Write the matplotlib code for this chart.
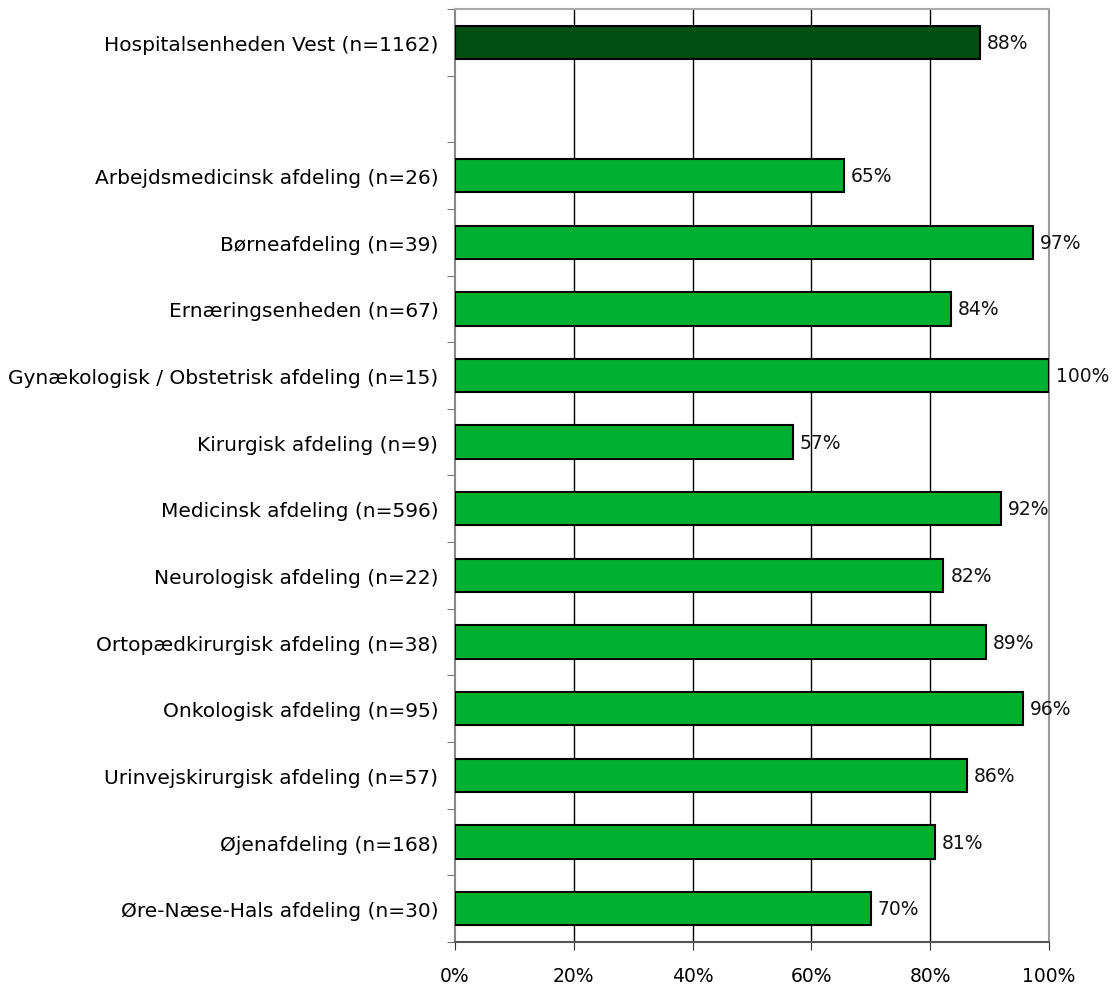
import matplotlib
matplotlib.use("Agg")
import matplotlib.pyplot as plt
import numpy as np

categories = [
    "Hospitalsenheden Vest (n=1162)",
    "",
    "Arbejdsmedicinsk afdeling (n=26)",
    "Børneafdeling (n=39)",
    "Ernæringsenheden (n=67)",
    "Gynækologisk / Obstetrisk afdeling (n=15)",
    "Kirurgisk afdeling (n=9)",
    "Medicinsk afdeling (n=596)",
    "Neurologisk afdeling (n=22)",
    "Ortopædkirurgisk afdeling (n=38)",
    "Onkologisk afdeling (n=95)",
    "Urinvejskirurgisk afdeling (n=57)",
    "Øjenafdeling (n=168)",
    "Øre-Næse-Hals afdeling (n=30)",
]
values = [88.4, None, 65.5, 97.3, 83.5, 100.0, 56.9, 91.9, 82.2, 89.4, 95.6, 86.2, 80.8, 70.0]
labels = ["88%", "", "65%", "97%", "84%", "100%", "57%", "92%", "82%", "89%", "96%", "86%", "81%", "70%"]
xticks = [0, 20, 40, 60, 80, 100]
xticklabels = ["0%", "20%", "40%", "60%", "80%", "100%"]

plt.rcParams['font.family'] = ['DejaVu Sans']
fig = plt.figure(figsize=(11.15, 9.87), dpi=100)
ax = fig.add_axes([0.408, 0.0446, 0.5327, 0.9453])

ypos = np.arange(len(categories))
for i, (v, lab) in enumerate(zip(values, labels)):
    if v is None:
        continue
    color = "#024f14" if i == 0 else "#00b030"
    ax.barh(i, v, height=0.5, color=color, edgecolor="black", linewidth=1.5, zorder=3)
    ax.text(v + 1.2, i, lab, va="center", ha="left", fontsize=13.5, color="#111111", zorder=4)

ax.set_xlim(0, 100)
ax.set_ylim(len(categories) - 0.5, -0.5)
ax.set_xticks(xticks)
ax.set_xticklabels(xticklabels, fontsize=13.5)
ax.set_yticks(ypos)
ax.set_yticklabels(categories, fontsize=14.5)
ax.tick_params(axis="y", length=0, pad=12)
ax.set_yticks(np.arange(-0.5, len(categories), 1), minor=True)
ax.tick_params(axis="y", which="minor", length=6, color="#555555", direction="out")
ax.tick_params(axis="x", length=6, color="#333333", pad=11)
for x in [20, 40, 60, 80]:
    ax.axvline(x, color="black", linewidth=1, zorder=1)

ax.spines["top"].set_color("#aaaaaa")
ax.spines["top"].set_linewidth(1.5)
ax.spines["right"].set_color("#999999")
ax.spines["right"].set_linewidth(1.5)
ax.spines["left"].set_color("#888888")
ax.spines["left"].set_linewidth(1.5)
ax.spines["bottom"].set_color("#555555")
ax.spines["bottom"].set_linewidth(1.5)

fig.savefig("out.png", dpi=100)
